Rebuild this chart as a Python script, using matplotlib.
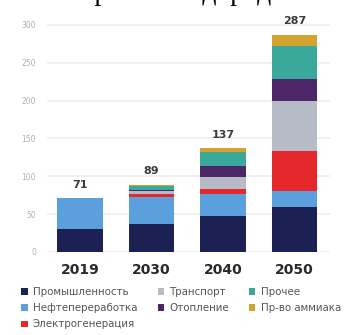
import matplotlib
matplotlib.use("Agg")
import matplotlib.pyplot as plt
import numpy as np

years = ["2019", "2030", "2040", "2050"]
totals = [71, 89, 137, 287]
series_names = ["Промышленность", "Нефтепереработка", "Электрогенерация",
                "Транспорт", "Отопление", "Прочее", "Пр-во аммиака"]
industry = [30, 37, 48, 60]
refining = [41, 35, 28, 21]
power = [0, 5, 7, 53]
transport = [0, 3, 16, 66]
heating = [0, 2, 14, 29]
other = [0, 5, 19, 43]
ammonia = [0, 2, 5, 15]
series = [industry, refining, power, transport, heating, other, ammonia]
colors = ["#1b2152", "#5b9fdc", "#e5282b", "#b7bac7", "#4c2667", "#3aa99c", "#d3a32e"]
yticks = [0, 50, 100, 150, 200, 250, 300]

fig = plt.figure(figsize=(3.54, 3.35), dpi=100)
ax = fig.add_axes([0.133, 0.248, 0.80, 0.70])

x = np.arange(len(years))
bottom = np.zeros(len(years))
handles = []
for name, vals, c in zip(series_names, series, colors):
    v = np.array(vals, dtype=float)
    b = ax.bar(x, v, bottom=bottom, width=0.63, color=c, label=name, zorder=3)
    handles.append(b)
    bottom += v

for xi, t in zip(x, totals):
    ax.text(xi, t + 11, str(t), ha="center", va="bottom", fontsize=8,
            fontweight="bold", color="#3a3a3a", clip_on=False)

ax.set_xlim(-0.46, 3.5)
ax.set_ylim(0, 310)
ax.set_yticks(yticks)
ax.set_yticklabels([str(t) for t in yticks], fontsize=5.5, color="#b0b0b0")
ax.set_xticks(x)
ax.set_xticklabels(years, fontsize=10, fontweight="bold", color="#2a2a2a")
ax.tick_params(axis="both", length=0)
ax.tick_params(axis="x", pad=8)
ax.tick_params(axis="y", pad=8)
ax.grid(axis="y", color="#eeeeee", linewidth=1.2, zorder=0)
for s in ax.spines.values():
    s.set_visible(False)

leg = fig.legend(handles, series_names,
                 ncol=3, loc="lower left", bbox_to_anchor=(0.04, -0.005),
                 frameon=False, fontsize=7.4, handlelength=0.6, handleheight=0.6,
                 handletextpad=0.5, columnspacing=2.0, labelspacing=0.6,
                 borderaxespad=0.3)
for t in leg.get_texts():
    t.set_color("#555555")

# title, cut at the top edge as in the reference (only descenders visible)
fig.text(0.47, 1 - 0.5 / 335, "Спрос на водород", ha="center", va="baseline",
         fontsize=20, family="Liberation Serif", color="black")

fig.savefig("out.png", dpi=100)
